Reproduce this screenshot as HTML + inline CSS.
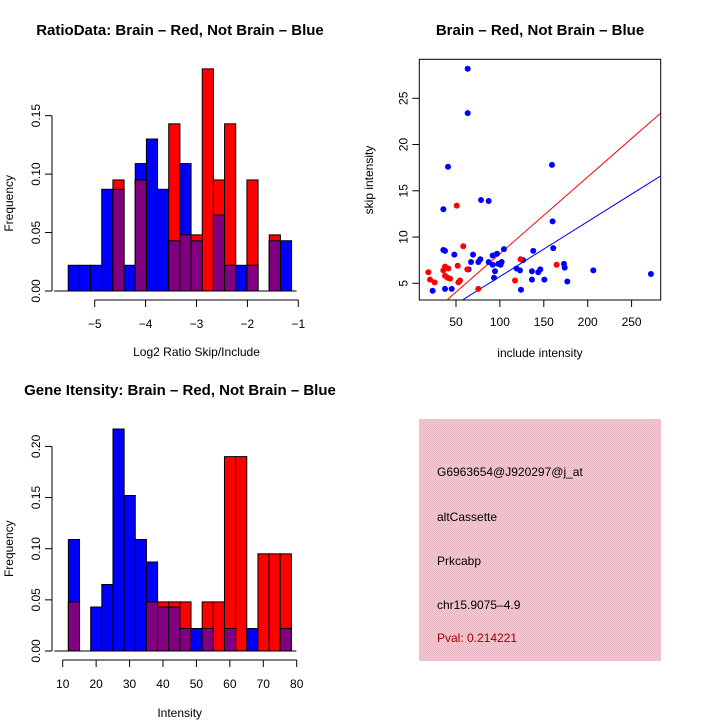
<!DOCTYPE html>
<html><head><meta charset="utf-8"><style>
body{margin:0;background:#fff}
svg{display:block;font-family:"Liberation Sans",sans-serif}
</style></head><body>
<svg id="s" width="720" height="720" viewBox="0 0 720 720">
<defs>
<pattern id="pk" width="2" height="2" patternUnits="userSpaceOnUse"><rect width="2" height="2" fill="#f6c8d2"/><rect width="1" height="1" fill="#e8b8c4"/><rect x="1" y="1" width="1" height="1" fill="#e8b8c4"/></pattern>
</defs>
<text x="180" y="35" text-anchor="middle" font-size="15" font-weight="bold">RatioData: Brain – Red, Not Brain – Blue</text>
<text x="540" y="35" text-anchor="middle" font-size="15" font-weight="bold">Brain – Red, Not Brain – Blue</text>
<text x="180" y="395" text-anchor="middle" font-size="15" font-weight="bold">Gene Itensity: Brain – Red, Not Brain – Blue</text>
<g id="h1"></g>
<g id="h2"></g>
<g id="sc"></g>
<g>
<rect x="419" y="419" width="242" height="242" fill="url(#pk)"/>
<text x="437" y="476" font-size="12">G6963654@J920297@j_at</text>
<text x="437" y="521" font-size="12">altCassette</text>
<text x="437" y="565" font-size="12">Prkcabp</text>
<text x="437" y="609" font-size="12">chr15.9075–4.9</text>
<text x="437" y="642" font-size="12" fill="#a00000">Pval: 0.214221</text>
</g>
</svg>
<script>
const ratioBlue=[0.022,0.022,0.022,0.087,0.087,0.022,0.109,0.130,0.087,0.043,0.109,0.043,0,0.065,0.022,0.022,0.022,0,0.043,0.043];
const ratioRed=[0,0,0,0,0.095,0,0.095,0,0,0.143,0.048,0.048,0.190,0.095,0.143,0,0.095,0,0.048,0];
const ratioStart=-5.52, ratioWidth=0.2194;
const ratioXTicks=[-5,-4,-3,-2,-1];
const ratioYTicks=[0,0.05,0.10,0.15];
const intBlue=[0.109,0,0.043,0.065,0.217,0.152,0.109,0.087,0.043,0.043,0.022,0.022,0.022,0,0.022,0,0.022,0,0,0.022];
const intRed=[0.048,0,0,0,0,0,0,0.048,0.048,0.048,0.048,0,0.048,0.048,0.190,0.190,0,0.095,0.095,0.095];
const intStart=11.7, intWidth=3.335;
const intXTicks=[10,20,30,40,50,60,70,80];
const intYTicks=[0,0.05,0.10,0.15,0.20];
const blueX=[63.3,63.3,40.9,159.3,35.6,78.5,87.2,160,160.8,35.6,37.5,48.1,69.4,67.1,75.4,77.7,87.2,91.7,96.7,104.6,91.7,94.4,98.2,102,100.8,64.4,93.3,37.5,45.1,23.4,124,119,122.9,126.3,138,136.5,136.5,143.7,146,150.6,173,173.8,176.8,206.4,272];
const blueY=[28.2,23.4,17.6,17.8,13.0,14.0,13.9,11.7,8.8,8.6,8.5,8.1,8.1,7.3,7.3,7.6,7.3,8.0,8.2,8.7,7.0,6.3,7.1,7.3,7.0,6.5,5.6,4.4,4.4,4.2,4.3,6.6,6.4,7.5,8.5,6.3,5.4,6.2,6.5,5.4,7.1,6.7,5.2,6.4,6.0];
const redX=[18.5,20.4,25.7,50.8,58.3,35.6,37.5,41.3,37.5,40.5,43.2,51.9,62.9,52.7,54.6,75.4,117.2,123.6,164.6];
const redY=[6.2,5.4,5.1,13.4,9.0,6.4,6.8,6.6,5.8,5.6,5.5,6.9,6.5,5.1,5.3,4.4,5.3,7.6,7.0];
const scXTicks=[50,100,150,200,250];
const scYTicks=[5,10,15,20,25];
const redFit=[-0.1,0.083], blueFit=[-0.21,0.0594];

const NS='http://www.w3.org/2000/svg';
function mk(p,tag,a){const e=document.createElementNS(NS,tag);for(const k in a)e.setAttribute(k,a[k]);p.appendChild(e);return e;}

function hist(g,blue,red,start,w,xs,ys,x0px,x0v,pxPerX,y0px,pxPerY,axisY,lblY,titleY,xTitle){
  const X=v=>x0px+(v-x0v)*pxPerX, Y=v=>y0px-v*pxPerY;
  const draw=(arr,col,nm)=>arr.forEach((v,i)=>{if(v<=0)return;const r=mk(g,'rect',{x:X(start+i*w),y:Y(v),width:w*pxPerX,height:v*pxPerY,fill:col,stroke:'#000','stroke-width':1});
    
    });
  draw(blue,'#0000ff','blue');draw(red,'#ff0000','red');
  draw(blue.map((v,i)=>Math.min(v,red[i])),'#800080','overlap');
  const x1=X(start),x2=X(start+blue.length*w);
  mk(g,'line',{x1:x1-14,x2:x2+5,y1:y0px,y2:y0px,stroke:'#000'});
  mk(g,'line',{x1:X(xs[0]),x2:X(xs[xs.length-1]),y1:axisY,y2:axisY,stroke:'#000'});
  xs.forEach(t=>{mk(g,'line',{x1:X(t),x2:X(t),y1:axisY,y2:axisY+7,stroke:'#000'});
    const tx=mk(g,'text',{x:X(t),y:lblY,'text-anchor':'middle','font-size':12});tx.textContent=(t<0?'−'+(-t):t);
    
    });
  const ax=52;
  mk(g,'line',{x1:ax,x2:ax,y1:Y(ys[0]),y2:Y(ys[ys.length-1]),stroke:'#000'});
  ys.forEach(t=>{mk(g,'line',{x1:ax-7,x2:ax,y1:Y(t),y2:Y(t),stroke:'#000'});
    const tx=mk(g,'text',{x:0,y:0,'text-anchor':'middle','font-size':12,transform:`translate(${ax-12},${Y(t)}) rotate(-90)`});tx.textContent=t.toFixed(2);
    
    });
  const xt=mk(g,'text',{x:(X(xs[0])+X(xs[xs.length-1]))/2,y:titleY,'text-anchor':'middle','font-size':12});xt.textContent=xTitle;
  
  
  const yt=mk(g,'text',{x:0,y:0,'text-anchor':'middle','font-size':12,transform:`translate(13,${(Y(ys[0])+Y(ys[ys.length-1]))/2}) rotate(-90)`});yt.textContent='Frequency';
  
  
}
hist(document.getElementById('h1'),ratioBlue,ratioRed,ratioStart,ratioWidth,ratioXTicks,ratioYTicks,94.7,-5,50.9,291,1169,300,328,356,'Log2 Ratio Skip/Include');
hist(document.getElementById('h2'),intBlue,intRed,intStart,intWidth,intXTicks,intYTicks,62.7,10,3.343,651,1023,660,688,717,'Intensity');

(function(){
  const g=document.getElementById('sc');
  const L=419.3,R=660.7,T=59.3,B=300;
  const X=v=>412.1+v*0.878, Y=v=>283.3-(v-5)*9.25;
  const xmin=(L-412.1)/0.878,xmax=(R-412.1)/0.878;
  mk(g,'rect',{x:L,y:T,width:R-L,height:B-T,fill:'none',stroke:'#000'});
  const cp=mk(g,'clipPath',{id:'cp'});mk(cp,'rect',{x:L,y:T,width:R-L,height:B-T});
  const pts=mk(g,'g',{'clip-path':'url(#cp)'});
  const line=(f,col,nm)=>{const l=mk(pts,'line',{x1:X(xmin),y1:Y(f[0]+f[1]*xmin),x2:X(xmax),y2:Y(f[0]+f[1]*xmax),stroke:col});
    
    };
  line(redFit,'#ff0000','red-fit-line');line(blueFit,'#0000ff','blue-fit-line');
  blueX.forEach((v,i)=>{const c=mk(pts,'circle',{cx:X(v),cy:Y(blueY[i]),r:3,fill:'#0000ff'});
    
    });
  redX.forEach((v,i)=>{const c=mk(pts,'circle',{cx:X(v),cy:Y(redY[i]),r:3,fill:'#ff0000'});
    
    });
  scXTicks.forEach(t=>{mk(g,'line',{x1:X(t),x2:X(t),y1:B,y2:B+7,stroke:'#000'});
    const tx=mk(g,'text',{x:X(t),y:326,'text-anchor':'middle','font-size':12});tx.textContent=t;
    
    });
  scYTicks.forEach(t=>{mk(g,'line',{x1:L-7,x2:L,y1:Y(t),y2:Y(t),stroke:'#000'});
    const tx=mk(g,'text',{x:0,y:0,'text-anchor':'middle','font-size':12,transform:`translate(${L-12},${Y(t)}) rotate(-90)`});tx.textContent=t;
    
    });
  const xt=mk(g,'text',{x:540,y:357,'text-anchor':'middle','font-size':12});xt.textContent='include intensity';
  
  
  const yt=mk(g,'text',{x:0,y:0,'text-anchor':'middle','font-size':12,transform:`translate(373,180) rotate(-90)`});yt.textContent='skip intensity';
  
  
})();
</script>
</body></html>
